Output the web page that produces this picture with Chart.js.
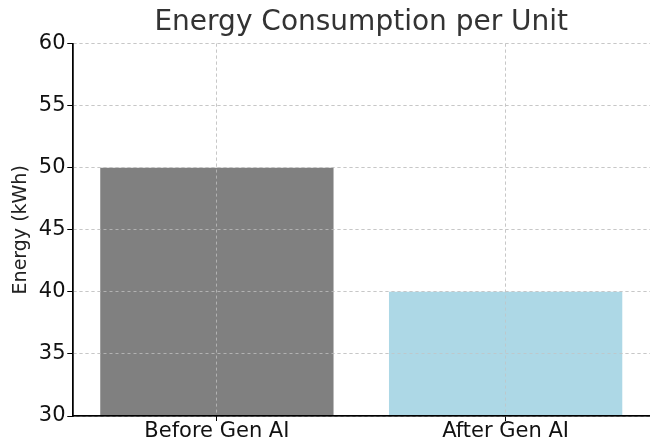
<!DOCTYPE html>
<html>
<head>
<meta charset="utf-8">
<script src="https://cdn.jsdelivr.net/npm/chart.js@4"></script>
<style>
  html, body { margin: 0; padding: 0; background: #fff; }
  #wrap { width: 650px; height: 443px; }
</style>
</head>
<body>
<div id="wrap"><canvas id="energy"></canvas></div>
<script>
const categories = ["Before Gen AI", "After Gen AI"];
const energyValues = [50, 40];
const barColors = ["#808080", "#add8e6"];

Chart.defaults.font.family = "'DejaVu Sans', sans-serif";
Chart.defaults.color = "#222";

// matplotlib draws the grid above the bars, so draw it again after the datasets
const gridOnTop = {
    id: 'gridOnTop',
    afterDatasetsDraw(chart) {
        const ctx = chart.ctx
        ctx.save()
        Object.values(chart.scales).forEach(s => s.drawGrid(chart.chartArea))
        Object.values(chart.scales).forEach(s => s.drawBorder())
        ctx.restore()
    }
}

const gridColor = "rgba(195,195,195,0.75)"

const config = {
    type: 'bar',
    data: {
        labels: categories,
        datasets: [{
            label: "Energy (kWh)",
            data: energyValues,
            backgroundColor: barColors,
            categoryPercentage: 1,
            barPercentage: 0.808
        }]
    },
    options: {
        responsive: true,
        maintainAspectRatio: false,
        animation: false,
        layout: { padding: { left: 10, right: 0, top: 0, bottom: 1 } },
        plugins: {
            legend: { display: false },
            tooltip: { enabled: false },
            title: {
                display: true,
                fullSize: false,
                text: "Energy Consumption per Unit",
                color: "#333",
                font: { size: 28, weight: 'normal' },
                padding: { top: 6, bottom: 4 }
            }
        },
        scales: {
            x: {
                grid: {
                    offset: false,
                    color: gridColor,
                    tickColor: "#000",
                    tickLength: 5,
                    lineWidth: 1
                },
                border: { display: true, color: "#000", width: 1.5, dash: [3, 3] },
                ticks: { color: "#111", font: { size: 21, lineHeight: 1 }, padding: 0 }
            },
            y: {
                min: 30,
                max: 60,
                ticks: { stepSize: 5, color: "#111", font: { size: 21 }, padding: 2 },
                grid: {
                    color: gridColor,
                    tickColor: "#000",
                    tickLength: 5,
                    lineWidth: 1
                },
                border: { display: true, color: "#000", width: 1.5, dash: [3, 3] },
                title: {
                    display: true,
                    text: "Energy (kWh)",
                    color: "#222",
                    font: { size: 19 },
                    padding: { top: 0, bottom: 4 }
                }
            }
        }
    },
    plugins: [gridOnTop]
}

new Chart(document.getElementById("energy"), config)
</script>
</body>
</html>
